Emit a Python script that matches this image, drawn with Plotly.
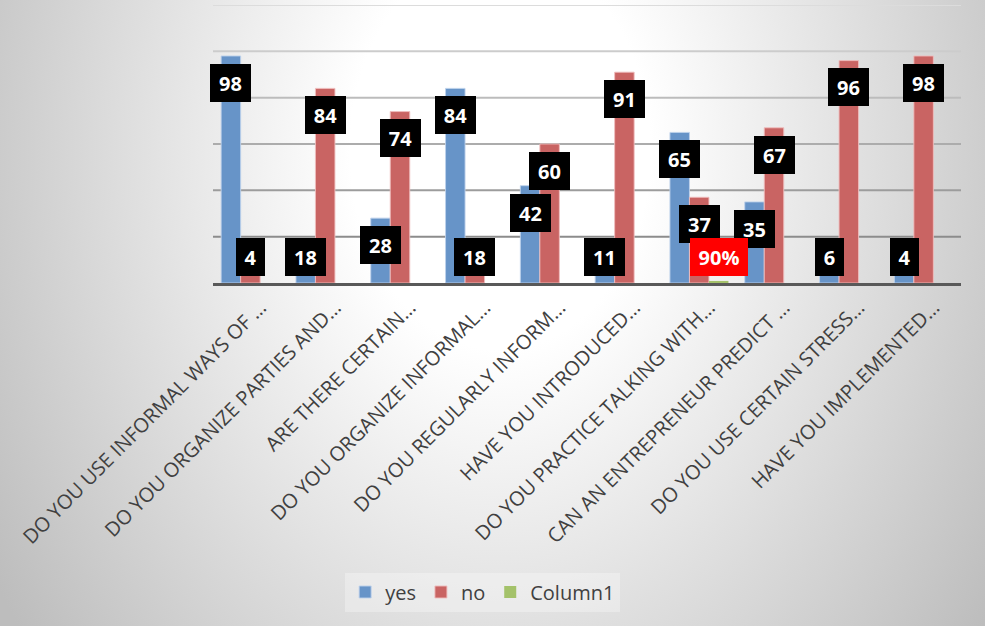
import base64
import plotly.graph_objects as go

categories = [
    "DO YOU USE INFORMAL WAYS OF …",
    "DO YOU ORGANIZE PARTIES AND…",
    "ARE THERE CERTAIN…",
    "DO YOU ORGANIZE INFORMAL…",
    "DO YOU REGULARLY INFORM…",
    "HAVE YOU INTRODUCED…",
    "DO YOU PRACTICE TALKING WITH…",
    "CAN AN ENTREPRENEUR PREDICT …",
    "DO YOU USE CERTAIN STRESS…",
    "HAVE YOU IMPLEMENTED…",
]
yes_vals = [98, 18, 28, 84, 42, 11, 65, 35, 6, 4]
no_vals = [4, 84, 74, 18, 60, 91, 37, 67, 96, 98]
col1_vals = [None, None, None, None, None, None, 0.9, None, None, None]
y_ticks = [0, 20, 40, 60, 80, 100, 120]

W, H = 985, 626
L, R, T, B = 213, 24, 5, 343
PW, PH = W - L - R, H - T - B
BARGAP = 0.218
bw = (1 - BARGAP) / 3

x_idx = list(range(len(categories)))

fig = go.Figure()
series = [
    ("yes", yes_vals, "#6794c8", "rgba(190,210,235,0.9)", 1),
    ("no", no_vals, "#c96463", "rgba(240,190,190,0.9)", 1),
    ("Column1", col1_vals, "#a4c26a", "rgba(215,230,190,0.9)", 0),
]
for name, vals, col, lcol, lw in series:
    fig.add_trace(go.Bar(
        x=x_idx, y=vals, name=name,
        marker=dict(color=col, line=dict(color=lcol, width=lw)),
    ))

# background radial gradient
svg = f'''<svg xmlns="http://www.w3.org/2000/svg" width="{W}" height="{H}">
<defs><radialGradient id="g" gradientUnits="userSpaceOnUse" cx="500" cy="150" r="600"
 gradientTransform="translate(500 150) scale(1 1.33) translate(-500 -150)">
<stop offset="0" stop-color="#ffffff"/><stop offset="0.25" stop-color="#ffffff"/>
<stop offset="1" stop-color="#bdbdbd"/></radialGradient></defs>
<rect width="{W}" height="{H}" fill="url(#g)"/></svg>'''
src = "data:image/svg+xml;base64," + base64.b64encode(svg.encode()).decode()
fig.add_layout_image(dict(
    source=src, xref="paper", yref="paper",
    x=-L / PW, y=1 + T / PH, sizex=W / PW, sizey=H / PH,
    sizing="stretch", xanchor="left", yanchor="top", layer="below",
))

# gridlines (lighter toward top)
shapes = []
n = len(y_ticks) - 1
for i, t in enumerate(y_ticks[1:]):
    c = int(0x8c + (0xdc - 0x8c) * i / (n - 1))
    shapes.append(dict(type="line", xref="paper", x0=0, x1=1, yref="y", y0=t, y1=t,
                       line=dict(color=f"rgb({c},{c},{c})", width=2), layer="below"))
fig.update_layout(shapes=shapes)

# data labels
widths = {1: 29, 2: 41, 3: 58}
offsets = [-bw, 0, bw]
for (name, vals, col, _, _), off in zip(series, offsets):
    for i, v in enumerate(vals):
        if v is None:
            continue
        if name == "Column1":
            txt = f"{v:.0%}"
            bg = "#ff0000"
        else:
            txt = str(v)
            bg = "#000000"
        fig.add_annotation(
            x=i + off, y=max(v - 11.6, 11.2), xref="x", yref="y",
            text=f"<b>{txt}</b>", showarrow=False,
            font=dict(family="Open Sans", size=20, color="white"),
            bgcolor=bg, borderwidth=0, borderpad=0,
            width=widths[len(txt)], height=38,
            xanchor="center", yanchor="middle",
        )

fig.update_layout(
    width=W, height=H,
    margin=dict(l=L, r=R, t=T, b=B, autoexpand=False),
    paper_bgcolor="white", plot_bgcolor="rgba(0,0,0,0)",
    barmode="group", bargap=BARGAP, bargroupgap=0,
    font=dict(family="Open Sans", color="#404040"),
    showlegend=True,
    legend=dict(
        orientation="h", xref="container", yref="container",
        x=0.49, xanchor="center", y=1 - 592 / H, yanchor="middle",
        bgcolor="rgba(255,255,255,0.3)", font=dict(size=20, color="#404040"),
        itemwidth=30, traceorder="normal",
    ),
    xaxis=dict(
        tickmode="array", tickvals=x_idx, ticktext=categories,
        range=[-0.5, len(categories) - 0.5], tickangle=-45,
        tickfont=dict(size=20, color="#404040"),
        ticklabelshift=10, ticklabelstandoff=2,
        showline=True, linecolor="#595959", linewidth=3,
        showgrid=False, zeroline=False, ticks="",
    ),
    yaxis=dict(
        range=[0, 120], tickvals=y_ticks, showticklabels=False,
        showgrid=False, zeroline=False, showline=False,
    ),
)

fig.write_html("out.html", config={"displayModeBar": False},
               post_script="document.body.style.margin='0';")
